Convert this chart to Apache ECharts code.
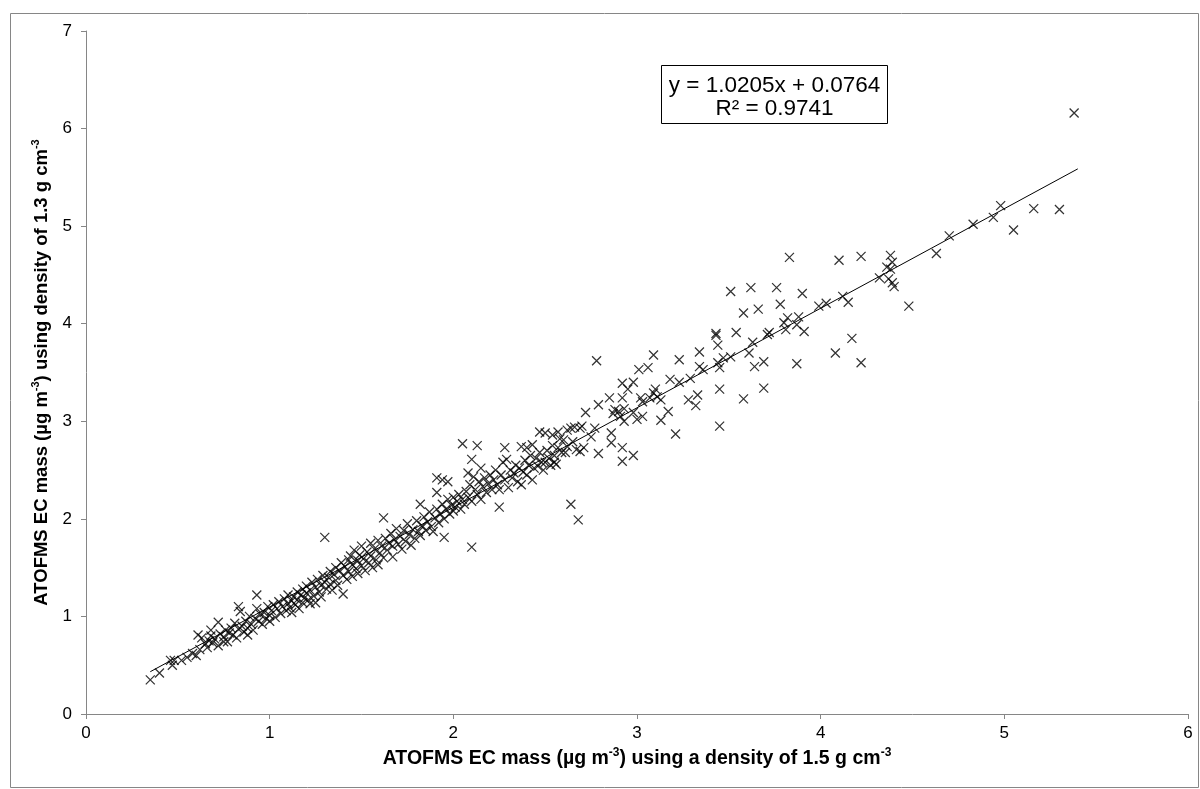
<!DOCTYPE html>
<html>
<head>
<meta charset="utf-8">
<script src="https://cdn.jsdelivr.net/npm/echarts@6/dist/echarts.min.js"></script>
<style>
  html, body { margin: 0; padding: 0; background: #fff; }
  #chart { width: 1200px; height: 789px; }
</style>
</head>
<body>
<div id="chart"></div>
<script>
// EC mass at 1.5 g cm-3 (x) vs EC mass at 1.3 g cm-3 (y), µg m-3
const lowRange = [
  [0.35,0.35],[0.40,0.42],[0.46,0.55],[0.47,0.50],[0.48,0.55],[0.52,0.55],[0.55,0.58],[0.58,0.62],
  [0.60,0.60],[0.61,0.81],[0.62,0.66],[0.63,0.78],[0.65,0.72],[0.66,0.68],[0.67,0.75],[0.68,0.86],
  [0.68,0.80],[0.69,0.73],[0.70,0.77],[0.72,0.94],[0.72,0.70],[0.73,0.82],[0.75,0.74],[0.75,0.79],
  [0.76,0.86],[0.77,0.74],[0.78,0.83],[0.79,0.88],[0.80,0.81],[0.81,0.93],[0.82,0.78],[0.83,1.10],
  [0.83,0.87],[0.84,1.05],[0.85,0.90],[0.86,0.84],[0.87,0.95],[0.88,0.81],[0.88,0.88],[0.89,1.00],
  [0.90,0.92],[0.91,0.86],[0.92,0.98],[0.93,1.22],[0.93,1.08],[0.94,0.95],[0.95,1.02],[0.96,0.92],
  [0.97,1.04],[0.98,0.98],[0.99,1.10],[1.00,1.01],[1.00,0.95]
];

const midRangeA = [
  [1.01,1.06],[1.02,1.12],[1.03,0.99],[1.04,1.08],[1.05,1.15],[1.06,1.03],[1.07,1.10],[1.08,1.18],
  [1.09,1.06],[1.10,1.13],[1.10,1.22],[1.11,1.09],[1.12,1.16],[1.12,1.04],[1.13,1.20],[1.14,1.12],
  [1.15,1.25],[1.15,1.17],[1.16,1.08],[1.17,1.22],[1.18,1.28],[1.18,1.14],[1.19,1.19],[1.20,1.31],
  [1.20,1.24],[1.21,1.17],[1.22,1.13],[1.22,1.27],[1.23,1.35],[1.24,1.21],[1.25,1.14],[1.25,1.30],
  [1.26,1.38],[1.27,1.25],[1.28,1.32],[1.28,1.20],[1.29,1.42],[1.30,1.81],[1.30,1.35],[1.31,1.28],
  [1.32,1.40],[1.33,1.46],[1.33,1.33],[1.34,1.27],[1.35,1.43],[1.36,1.50],[1.36,1.37],[1.37,1.32],
  [1.38,1.47],[1.39,1.55],[1.40,1.23],[1.40,1.42],[1.41,1.51],[1.42,1.38],[1.43,1.58],[1.43,1.46],
  [1.44,1.62],[1.45,1.41],[1.45,1.53],[1.46,1.68],[1.47,1.49],[1.48,1.57],[1.48,1.44],[1.49,1.63],
  [1.50,1.52],[1.50,1.72]
];

const midRangeB = [
  [1.51,1.59],[1.52,1.47],[1.53,1.66],[1.54,1.55],[1.55,1.75],[1.55,1.62],[1.56,1.50],[1.57,1.69],
  [1.58,1.58],[1.59,1.53],[1.59,1.78],[1.60,1.65],[1.61,1.72],[1.62,2.01],[1.62,1.60],[1.63,1.80],
  [1.64,1.68],[1.65,1.75],[1.66,1.85],[1.67,1.61],[1.67,1.72],[1.68,1.79],[1.69,1.90],[1.70,1.74],
  [1.71,1.82],[1.72,1.69],[1.73,1.88],[1.74,1.77],[1.75,1.95],[1.76,1.84],[1.77,1.73],[1.78,1.89],
  [1.79,1.80],[1.80,1.98],[1.81,1.87],[1.82,2.15],[1.82,1.83],[1.83,1.93],[1.84,2.02],[1.85,1.88],
  [1.86,1.97],[1.87,2.07],[1.88,1.92],[1.89,1.87],[1.90,2.01],[1.91,2.42],[1.91,2.27],[1.91,2.10],
  [1.92,1.96],[1.93,2.05],[1.94,2.40],[1.94,2.15],[1.95,1.81],[1.95,2.00],[1.96,2.10],[1.97,2.38],
  [1.97,2.20],[1.98,2.05],[1.99,2.14],[2.00,2.08],[2.00,2.22]
];

const midRangeC = [
  [2.01,2.12],[2.02,2.18],[2.03,2.25],[2.04,2.10],[2.05,2.77],[2.05,2.20],[2.06,2.15],[2.07,2.28],
  [2.08,2.47],[2.08,2.22],[2.09,2.35],[2.10,2.61],[2.10,1.71],[2.10,2.18],[2.11,2.43],[2.12,2.30],
  [2.13,2.75],[2.13,2.25],[2.14,2.38],[2.15,2.52],[2.15,2.20],[2.16,2.33],[2.17,2.42],[2.18,2.27],
  [2.19,2.36],[2.20,2.45],[2.21,2.30],[2.22,2.40],[2.23,2.50],[2.24,2.35],[2.25,2.30],[2.25,2.12],
  [2.26,2.45],[2.27,2.58],[2.28,2.73],[2.28,2.40],[2.29,2.61],[2.30,2.32],[2.31,2.50],[2.32,2.42],
  [2.33,2.47],[2.34,2.55],[2.35,2.38],[2.36,2.52],[2.37,2.74],[2.37,2.35],[2.38,2.48],[2.39,2.60],
  [2.40,2.73],[2.40,2.45],[2.41,2.55],[2.42,2.65],[2.43,2.40],[2.43,2.76],[2.44,2.52],[2.45,2.62],
  [2.46,2.54],[2.47,2.89],[2.47,2.68],[2.48,2.58],[2.49,2.50],[2.50,2.58],[2.50,2.88],[2.51,2.70],
  [2.52,2.62],[2.53,2.55],[2.54,2.86],[2.54,2.75],[2.55,2.65],[2.55,2.58],[2.56,2.56],[2.57,2.89],
  [2.57,2.73],[2.58,2.82],[2.59,2.68],[2.60,2.81],[2.61,2.68],[2.62,2.74],[2.62,2.91],[2.64,2.15],
  [2.64,2.93],[2.65,2.79],[2.66,2.94],[2.67,2.71],[2.68,1.99],[2.69,2.93],[2.69,2.69],[2.70,2.95],
  [2.71,2.73]
];

const upperRange = [
  [2.72,3.09],[2.75,2.84],[2.77,2.93],[2.78,3.62],[2.79,3.17],[2.79,2.67],[2.85,3.24],[2.86,2.88],
  [2.86,2.78],[2.87,3.08],[2.88,3.12],[2.90,3.10],[2.91,3.05],[2.92,3.39],[2.92,3.24],[2.92,2.73],
  [2.92,2.59],[2.93,3.00],[2.93,3.13],[2.95,3.33],[2.98,3.40],[2.98,3.09],[2.98,2.65],[3.00,3.02],
  [3.01,3.53],[3.02,3.24],[3.03,3.20],[3.03,3.05],[3.06,3.55],[3.07,3.24],[3.09,3.68],[3.09,3.29],
  [3.10,3.33],[3.11,3.25],[3.13,3.22],[3.13,3.01],[3.17,3.10],[3.18,3.43],[3.21,2.87],[3.23,3.63],
  [3.23,3.40],[3.28,3.22],[3.29,3.44],[3.32,3.16],[3.33,3.27],[3.34,3.71],[3.34,3.56],[3.36,3.53],
  [3.43,3.90],[3.43,3.88],[3.44,3.78],[3.44,3.60],[3.45,3.55],[3.45,3.33],[3.45,2.95],[3.47,3.65],
  [3.51,4.33],[3.51,3.66],[3.54,3.91],[3.58,4.11],[3.58,3.23],[3.61,3.70],[3.62,4.37],[3.63,3.81],
  [3.64,3.56],[3.66,4.15],[3.69,3.61],[3.69,3.34],[3.71,3.89],[3.72,3.91],[3.76,4.37],[3.78,4.20],
  [3.80,4.01],[3.81,3.94],[3.82,4.06],[3.83,4.68],[3.87,3.99],[3.87,3.59],[3.88,4.07],[3.90,4.31],
  [3.91,3.92],[3.99,4.18],[4.03,4.21],[4.08,3.70],[4.10,4.65],[4.12,4.28],[4.15,4.22],[4.17,3.85],
  [4.22,4.69],[4.22,3.60],[4.32,4.47],[4.36,4.58],[4.37,4.46],[4.38,4.56],[4.38,4.70],[4.39,4.63],
  [4.39,4.42],[4.40,4.38],[4.48,4.18]
];

const topRange = [
  [4.63,4.72],[4.70,4.90],[4.83,5.02],[4.94,5.09],[4.98,5.21],[5.05,4.96],[5.16,5.18],[5.30,5.17],
  [5.38,6.16]
];

// Linear fit shown in the box
const fitSlope = 1.0205;
const fitIntercept = 0.0764;
const fitRSquared = 0.9741;
const fitXRange = [0.35, 5.4];

const xTicks = [0, 1, 2, 3, 4, 5, 6];
const yTicks = [0, 1, 2, 3, 4, 5, 6, 7];

const points = [].concat(lowRange, midRangeA, midRangeB, midRangeC, upperRange, topRange);
const fitLine = fitXRange.map(x => [x, fitSlope * x + fitIntercept]);

const chart = echarts.init(document.getElementById('chart'), null, { renderer: 'canvas' });

const FONT = 'Liberation Sans, Arial, sans-serif';
const AXIS_GREY = '#868686';

function titleRich(size) {
  return {
    b: { fontFamily: FONT, fontWeight: 'bold', fontSize: size, color: '#000', lineHeight: size + 4 },
    s: { fontFamily: FONT, fontWeight: 'bold', fontSize: Math.round(size * 0.6), color: '#000',
         lineHeight: size + 4, verticalAlign: 'top', padding: [0, 0, 7, 0] }
  };
}

chart.setOption({
  animation: false,
  backgroundColor: '#fff',
  grid: { left: 86, right: 12, top: 31, bottom: 75, containLabel: false },
  xAxis: {
    type: 'value',
    min: xTicks[0],
    max: xTicks[xTicks.length - 1],
    interval: 1,
    splitLine: { show: false },
    axisLine: { onZero: false, lineStyle: { color: AXIS_GREY, width: 1 } },
    axisTick: { show: true, length: 5, lineStyle: { color: AXIS_GREY } },
    axisLabel: { fontFamily: FONT, fontSize: 17, color: '#000', margin: 11 },
    name: '{b|ATOFMS EC mass (µg m}{s|-3}{b|) using a density of 1.5 g cm}{s|-3}',
    nameLocation: 'middle',
    nameGap: 33,
    nameTextStyle: { rich: titleRich(19.5) }
  },
  yAxis: {
    type: 'value',
    min: yTicks[0],
    max: yTicks[yTicks.length - 1],
    interval: 1,
    splitLine: { show: false },
    axisLine: { onZero: false, lineStyle: { color: AXIS_GREY, width: 1 } },
    axisTick: { show: true, length: 5, lineStyle: { color: AXIS_GREY } },
    axisLabel: { fontFamily: FONT, fontSize: 17, color: '#000', margin: 14 },
    name: '{b|ATOFMS EC mass (µg m}{s|-3}{b|) using density of 1.3 g cm}{s|-3}',
    nameLocation: 'middle',
    nameGap: 31,
    nameRotate: 90,
    nameTextStyle: { rich: titleRich(18.5) }
  },
  series: [
    {
      type: 'scatter',
      data: points,
      symbol: 'path://M0 0L10 10M10 0L0 10',
      symbolSize: 9,
      itemStyle: { color: 'rgba(0,0,0,0)', borderColor: '#000', borderWidth: 1.25 },
      z: 3
    },
    {
      type: 'line',
      data: fitLine,
      showSymbol: false,
      symbol: 'none',
      lineStyle: { color: '#000', width: 1 },
      z: 4
    }
  ],
  graphic: [
    {
      type: 'rect',
      left: 8, top: 11,
      shape: { width: 1188, height: 774 },
      style: { fill: 'none', stroke: AXIS_GREY, lineWidth: 1 },
      silent: true,
      z: -1
    },
    {
      type: 'group',
      left: 661, top: 65,
      children: [
        {
          type: 'rect',
          shape: { x: 0, y: 0, width: 226, height: 58 },
          style: { fill: '#fff', stroke: '#000', lineWidth: 1 }
        },
        {
          type: 'text',
          x: 113, y: 20,
          style: {
            text: 'y = ' + fitSlope.toFixed(4) + 'x + ' + fitIntercept.toFixed(4),
            font: '22.5px ' + FONT, fill: '#000', align: 'center', verticalAlign: 'middle'
          }
        },
        {
          type: 'text',
          x: 113, y: 43,
          style: {
            text: 'R² = ' + fitRSquared.toFixed(4),
            font: '22.5px ' + FONT, fill: '#000', align: 'center', verticalAlign: 'middle'
          }
        }
      ]
    }
  ]
});
</script>
</body>
</html>
